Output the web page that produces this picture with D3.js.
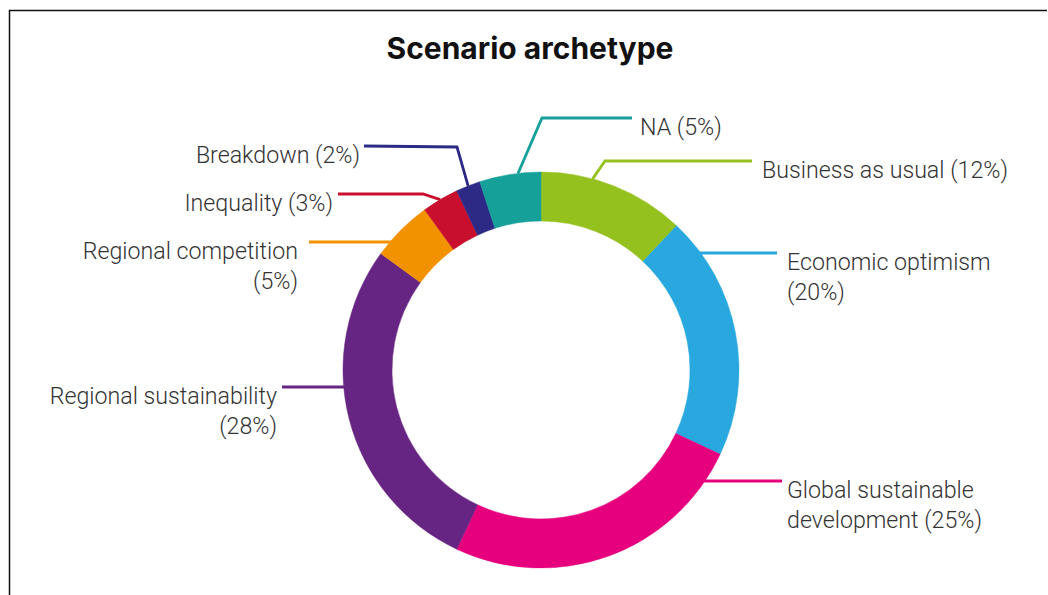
<!DOCTYPE html>
<html>
<head>
<meta charset="utf-8">
<script src="https://cdn.jsdelivr.net/npm/d3@7/dist/d3.min.js"></script>
<style>
  html, body { margin: 0; padding: 0; background: #fff; }
  svg { display: block; }
</style>
</head>
<body>
<svg id="chart" width="1048" height="595"></svg>
<script>
// ---- data ----
const title = "Scenario archetype";
const categories = ["Business as usual", "Economic optimism", "Global sustainable development",
  "Regional sustainability", "Regional competition", "Inequality", "Breakdown", "NA"];
const values = [12, 20, 25, 28, 5, 3, 2, 5];
const colors = ["#95c11f", "#29a8e0", "#e6007e", "#662483", "#f39200", "#c8102e", "#2d2a86", "#16a09a"];
const labelLines = [
  ["Business as usual (12%)"],
  ["Economic optimism", "(20%)"],
  ["Global sustainable", "development (25%)"],
  ["Regional sustainability", "(28%)"],
  ["Regional competition", "(5%)"],
  ["Inequality (3%)"],
  ["Breakdown (2%)"],
  ["NA (5%)"]
];

// ---- layout (label placement) ----
const W = 1048, H = 595;
const cx = 541, cy = 370, rOuter = 198, rInner = 149;
const labelLayout = [
  { t: 0.35, elbow: [605, 161], lineY: 161, endX: 752, textX: 762, anchor: "start" },
  { lineY: 253, endX: 777, textX: 787, anchor: "start", side: 1 },
  { lineY: 481, endX: 782, textX: 787, anchor: "start", side: 1 },
  { lineY: 387, endX: 282, textX: 277, anchor: "end", side: -1 },
  { lineY: 242, endX: 309, textX: 298, anchor: "end", side: -1 },
  { t: 0.5, elbow: [423, 194], lineY: 194, endX: 338, textX: 333, anchor: "end" },
  { t: 0.5, elbow: [457, 147], lineY: 146, endX: 364, textX: 360, anchor: "end" },
  { t: 0.63, elbow: [542, 118], lineY: 118, endX: 632, textX: 640, anchor: "start" }
];

const svg = d3.select("#chart");

// frame
svg.append("path")
  .attr("d", `M9.5,${H} L9.5,10.5 L1047,10.5`)
  .attr("fill", "none").attr("stroke", "#111").attr("stroke-width", 1.5);

// title
svg.append("text")
  .attr("x", 530).attr("y", 59)
  .attr("text-anchor", "middle")
  .attr("font-family", "Inter, Roboto, sans-serif")
  .attr("font-weight", 700)
  .attr("font-size", 30)
  .attr("fill", "#111")
  .text(title);

const data = categories.map((c, i) => ({ cat: c, value: values[i], color: colors[i], lines: labelLines[i], lay: labelLayout[i] }));

const pie = d3.pie().value(d => d.value).sort(null).startAngle(0).endAngle(2 * Math.PI);
const arcs = pie(data);
const arc = d3.arc().innerRadius(rInner).outerRadius(rOuter);

const g = svg.append("g").attr("transform", `translate(${cx},${cy})`);
g.selectAll("path.slice").data(arcs).join("path")
  .attr("class", "slice")
  .attr("d", arc)
  .attr("fill", d => d.data.color)
  .attr("stroke", d => d.data.color)
  .attr("stroke-width", 0.5);

// leaders
const lg = svg.append("g");
arcs.forEach(a => {
  const L = a.data.lay;
  let pts;
  if (L.elbow) {
    const ang = a.startAngle + (a.endAngle - a.startAngle) * L.t;
    const sx = cx + rOuter * Math.sin(ang), sy = cy - rOuter * Math.cos(ang);
    pts = [[sx, sy], L.elbow, [L.endX, L.lineY]];
  } else {
    const dy = L.lineY - cy;
    const sx = cx + L.side * Math.sqrt(rOuter * rOuter - dy * dy);
    pts = [[sx - L.side * 6, L.lineY], [L.endX, L.lineY]];
  }
  lg.append("path")
    .attr("d", d3.line()(pts))
    .attr("fill", "none")
    .attr("stroke", a.data.color)
    .attr("stroke-width", 2.8);
  const t = lg.append("text")
    .attr("x", L.textX)
    .attr("y", L.lineY + 17)
    .attr("text-anchor", L.anchor)
    .attr("font-family", "Roboto, 'Noto Sans', sans-serif")
    .attr("font-weight", 300)
    .attr("font-size", 23.2)
    .attr("fill", "#333");
  a.data.lines.forEach((ln, i) => {
    t.append("tspan").attr("x", L.textX).attr("dy", i === 0 ? 0 : 29.5).text(ln);
  });
});
</script>
</body>
</html>
